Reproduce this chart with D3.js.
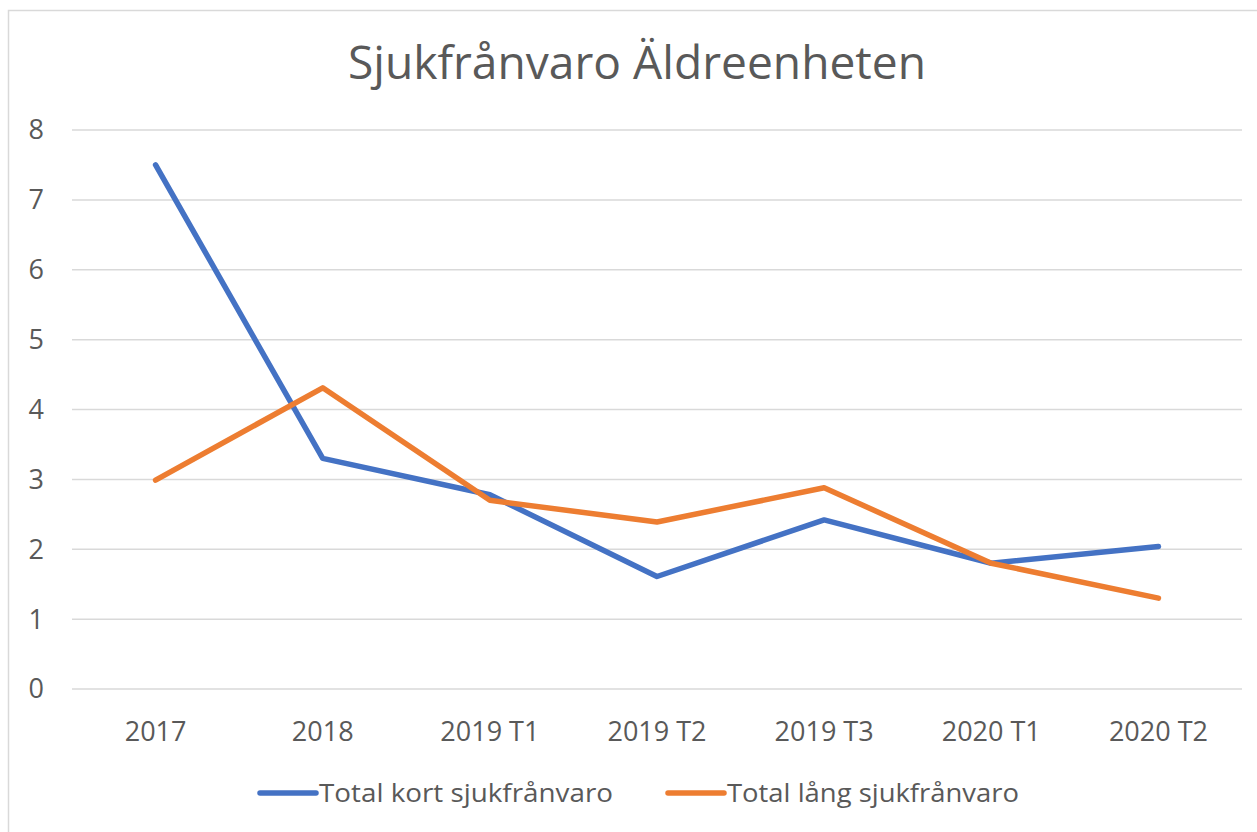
<!DOCTYPE html>
<html>
<head>
<meta charset="utf-8">
<script src="https://cdn.jsdelivr.net/npm/d3@7"></script>
<style>
  body { margin: 0; background: #fff; }
  svg { display: block; font-family: "Open Sans", sans-serif; }
</style>
</head>
<body>
<svg id="chart" width="1257" height="832"></svg>
<script>
// MARK: Data.

const title      = 'Sjukfrånvaro Äldreenheten'
const categories = ['2017', '2018', '2019 T1', '2019 T2', '2019 T3', '2020 T1', '2020 T2']
const shortLeave = [7.5, 3.3, 2.78, 1.61, 2.42, 1.8, 2.04]
const longLeave  = [2.99, 4.31, 2.7, 2.39, 2.88, 1.8, 1.3]
const yTicks     = [0, 1, 2, 3, 4, 5, 6, 7, 8]

const series = [
  { name: 'Total kort sjukfrånvaro', values: shortLeave, color: '#4472C4' },
  { name: 'Total lång sjukfrånvaro', values: longLeave,  color: '#ED7D31' },
]

// MARK: Layout.

const TEXT_COLOR = '#595959'
const GRID_COLOR = '#D9D9D9'

const svg = d3.select('#chart')

// Chart frame.
svg.append('rect')
  .attr('x', 8.5)
  .attr('y', 10.5)
  .attr('width', 1270)
  .attr('height', 840)
  .attr('fill', 'white')
  .attr('stroke', GRID_COLOR)
  .attr('stroke-width', 1.5)

const x = d3.scalePoint()
  .domain(categories)
  .range([72, 1242])
  .padding(0.5)

const y = d3.scaleLinear()
  .domain([0, 8])
  .range([689, 130])

// Gridlines.
svg.append('g')
  .selectAll('line')
  .data(yTicks).enter()
  .append('line')
  .attr('x1', 72)
  .attr('x2', 1242)
  .attr('y1', (d) => y(d))
  .attr('y2', (d) => y(d))
  .attr('stroke', GRID_COLOR)
  .attr('stroke-width', 1.5)

// Y axis labels.
svg.append('g')
  .selectAll('text')
  .data(yTicks).enter()
  .append('text')
  .attr('x', 44)
  .attr('y', (d) => y(d))
  .attr('dy', '0.35em')
  .attr('text-anchor', 'end')
  .attr('font-size', 27)
  .attr('fill', TEXT_COLOR)
  .text((d) => d)

// X axis labels.
svg.append('g')
  .selectAll('text')
  .data(categories).enter()
  .append('text')
  .attr('x', (d) => x(d))
  .attr('y', 741)
  .attr('text-anchor', 'middle')
  .attr('font-size', 27)
  .attr('fill', TEXT_COLOR)
  .text((d) => d)

// Lines.
const line = d3.line()
  .x((d, i) => x(categories[i]))
  .y((d) => y(d))

svg.append('g')
  .selectAll('path')
  .data(series).enter()
  .append('path')
  .attr('d', (s) => line(s.values))
  .attr('fill', 'none')
  .attr('stroke', (s) => s.color)
  .attr('stroke-width', 5.5)
  .attr('stroke-linejoin', 'round')
  .attr('stroke-linecap', 'round')

// Title, squeezed to the width of the original.
svg.append('text')
  .attr('x', 637)
  .attr('y', 79)
  .attr('text-anchor', 'middle')
  .attr('font-size', 46)
  .attr('fill', TEXT_COLOR)
  .attr('textLength', 578)
  .attr('lengthAdjust', 'spacingAndGlyphs')
  .text(title)

// Legend.
const legendX = [260, 668]
const legend = svg.append('g')
  .selectAll('g')
  .data(series).enter()
  .append('g')
  .attr('transform', (s, i) => `translate(${legendX[i]}, 793)`)

legend.append('line')
  .attr('x1', 0)
  .attr('x2', 56)
  .attr('stroke', (s) => s.color)
  .attr('stroke-width', 5.5)
  .attr('stroke-linecap', 'round')

legend.append('text')
  .attr('x', 59)
  .attr('dy', '0.35em')
  .attr('font-size', 26)
  .attr('fill', TEXT_COLOR)
  .attr('textLength', (s, i) => i === 0 ? 294 : 292)
  .attr('lengthAdjust', 'spacingAndGlyphs')
  .text((s) => s.name)
</script>
</body>
</html>
